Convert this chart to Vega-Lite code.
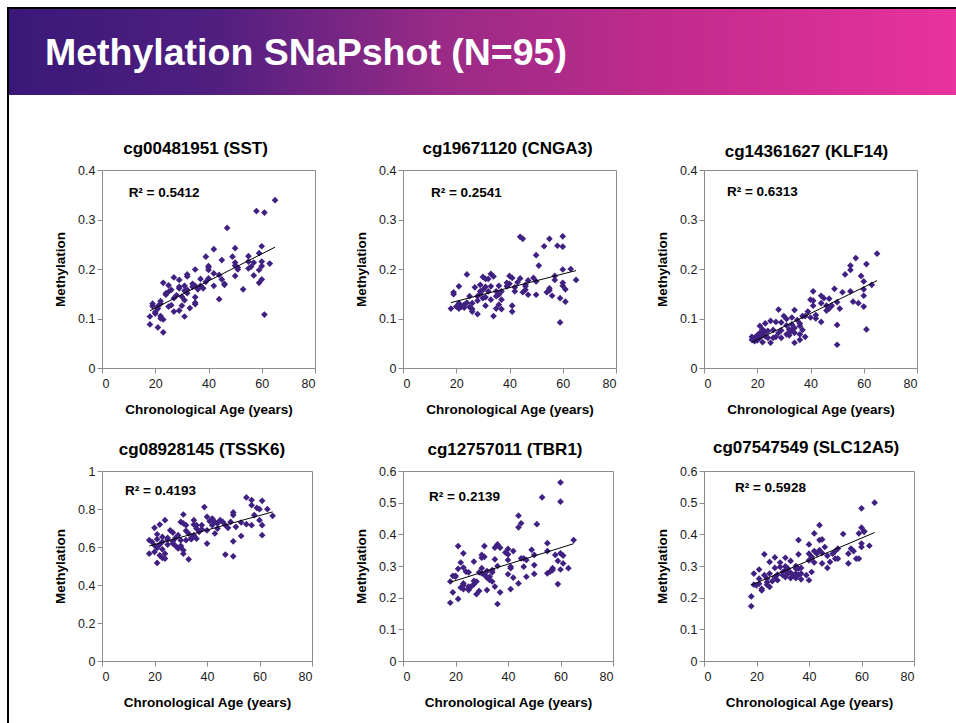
{
"$schema": "https://vega.github.io/schema/vega-lite/v6.json",
"padding": {"left": 7, "top": 7, "right": 0, "bottom": 0},
"background": "white",
"datasets": {
"p1": [{"age":65,"methylation":0.339},{"age":58,"methylation":0.317},{"age":61,"methylation":0.314},{"age":47,"methylation":0.283},{"age":60,"methylation":0.246},{"age":42,"methylation":0.240},{"age":50,"methylation":0.242},{"age":39,"methylation":0.225},{"age":49,"methylation":0.225},{"age":55,"methylation":0.226},{"age":59,"methylation":0.232},{"age":63,"methylation":0.211},{"age":45,"methylation":0.218},{"age":35,"methylation":0.199},{"age":40,"methylation":0.206},{"age":40,"methylation":0.198},{"age":50,"methylation":0.207},{"age":51,"methylation":0.199},{"age":55,"methylation":0.201},{"age":57,"methylation":0.213},{"age":60,"methylation":0.215},{"age":60,"methylation":0.206},{"age":32,"methylation":0.189},{"age":27,"methylation":0.183},{"age":23,"methylation":0.172},{"age":25,"methylation":0.167},{"age":32,"methylation":0.185},{"age":37,"methylation":0.180},{"age":40,"methylation":0.181},{"age":44,"methylation":0.188},{"age":45,"methylation":0.179},{"age":50,"methylation":0.186},{"age":57,"methylation":0.187},{"age":60,"methylation":0.179},{"age":59,"methylation":0.172},{"age":42,"methylation":0.166},{"age":46,"methylation":0.170},{"age":53,"methylation":0.159},{"age":26,"methylation":0.158},{"age":29,"methylation":0.164},{"age":31,"methylation":0.166},{"age":34,"methylation":0.164},{"age":35,"methylation":0.166},{"age":36,"methylation":0.159},{"age":24,"methylation":0.151},{"age":25,"methylation":0.154},{"age":28,"methylation":0.147},{"age":30,"methylation":0.144},{"age":35,"methylation":0.143},{"age":32,"methylation":0.158},{"age":31,"methylation":0.137},{"age":35,"methylation":0.132},{"age":44,"methylation":0.139},{"age":22,"methylation":0.135},{"age":26,"methylation":0.127},{"age":21,"methylation":0.125},{"age":19,"methylation":0.125},{"age":30,"methylation":0.126},{"age":33,"methylation":0.121},{"age":27,"methylation":0.114},{"age":29,"methylation":0.116},{"age":18,"methylation":0.104},{"age":20,"methylation":0.110},{"age":22,"methylation":0.105},{"age":23,"methylation":0.098},{"age":31,"methylation":0.104},{"age":18,"methylation":0.088},{"age":21,"methylation":0.082},{"age":23,"methylation":0.072},{"age":61,"methylation":0.108},{"age":20,"methylation":0.113},{"age":22,"methylation":0.130},{"age":24,"methylation":0.148},{"age":29,"methylation":0.161},{"age":38,"methylation":0.161},{"age":39,"methylation":0.174},{"age":42,"methylation":0.191},{"age":37,"methylation":0.166},{"age":55,"methylation":0.215},{"age":56,"methylation":0.205},{"age":32,"methylation":0.151},{"age":27,"methylation":0.141},{"age":25,"methylation":0.124},{"age":40,"methylation":0.203},{"age":31,"methylation":0.156},{"age":21,"methylation":0.120},{"age":34,"methylation":0.170},{"age":51,"methylation":0.203},{"age":59,"methylation":0.198},{"age":46,"methylation":0.168},{"age":22,"methylation":0.100},{"age":19,"methylation":0.130},{"age":35,"methylation":0.129},{"age":29,"methylation":0.178},{"age":50,"methylation":0.213}],
"p2": [{"age":44,"methylation":0.265},{"age":45,"methylation":0.261},{"age":55,"methylation":0.261},{"age":60,"methylation":0.266},{"age":53,"methylation":0.246},{"age":58,"methylation":0.247},{"age":60,"methylation":0.245},{"age":50,"methylation":0.228},{"age":51,"methylation":0.207},{"age":60,"methylation":0.199},{"age":63,"methylation":0.200},{"age":65,"methylation":0.178},{"age":24,"methylation":0.189},{"age":30,"methylation":0.184},{"age":33,"methylation":0.190},{"age":34,"methylation":0.185},{"age":32,"methylation":0.180},{"age":31,"methylation":0.180},{"age":40,"methylation":0.186},{"age":41,"methylation":0.182},{"age":44,"methylation":0.181},{"age":47,"methylation":0.177},{"age":49,"methylation":0.182},{"age":50,"methylation":0.175},{"age":57,"methylation":0.186},{"age":57,"methylation":0.178},{"age":21,"methylation":0.165},{"age":27,"methylation":0.163},{"age":29,"methylation":0.168},{"age":31,"methylation":0.164},{"age":33,"methylation":0.165},{"age":36,"methylation":0.166},{"age":39,"methylation":0.165},{"age":40,"methylation":0.170},{"age":42,"methylation":0.163},{"age":46,"methylation":0.165},{"age":46,"methylation":0.158},{"age":55,"methylation":0.161},{"age":55,"methylation":0.157},{"age":60,"methylation":0.172},{"age":60,"methylation":0.166},{"age":61,"methylation":0.159},{"age":19,"methylation":0.153},{"age":19,"methylation":0.149},{"age":29,"methylation":0.155},{"age":29,"methylation":0.150},{"age":35,"methylation":0.155},{"age":42,"methylation":0.155},{"age":45,"methylation":0.153},{"age":47,"methylation":0.148},{"age":50,"methylation":0.148},{"age":56,"methylation":0.146},{"age":25,"methylation":0.145},{"age":28,"methylation":0.145},{"age":30,"methylation":0.141},{"age":31,"methylation":0.143},{"age":35,"methylation":0.145},{"age":37,"methylation":0.138},{"age":59,"methylation":0.141},{"age":21,"methylation":0.131},{"age":23,"methylation":0.128},{"age":24,"methylation":0.132},{"age":26,"methylation":0.131},{"age":31,"methylation":0.126},{"age":36,"methylation":0.128},{"age":41,"methylation":0.126},{"age":61,"methylation":0.134},{"age":18,"methylation":0.120},{"age":21,"methylation":0.120},{"age":23,"methylation":0.122},{"age":25,"methylation":0.123},{"age":26,"methylation":0.119},{"age":35,"methylation":0.120},{"age":37,"methylation":0.119},{"age":41,"methylation":0.114},{"age":26,"methylation":0.114},{"age":28,"methylation":0.109},{"age":34,"methylation":0.105},{"age":59,"methylation":0.092},{"age":22,"methylation":0.124},{"age":28,"methylation":0.136},{"age":33,"methylation":0.138},{"age":36,"methylation":0.148},{"age":39,"methylation":0.172},{"age":43,"methylation":0.173},{"age":22,"methylation":0.125},{"age":20,"methylation":0.124},{"age":32,"methylation":0.155},{"age":37,"methylation":0.155},{"age":54,"methylation":0.153},{"age":30,"methylation":0.158},{"age":46,"methylation":0.168}],
"p3": [{"age":65,"methylation":0.231},{"age":57,"methylation":0.222},{"age":55,"methylation":0.207},{"age":55,"methylation":0.198},{"age":61,"methylation":0.210},{"age":53,"methylation":0.189},{"age":59,"methylation":0.186},{"age":60,"methylation":0.175},{"age":63,"methylation":0.168},{"age":49,"methylation":0.160},{"age":41,"methylation":0.155},{"age":55,"methylation":0.155},{"age":60,"methylation":0.159},{"age":60,"methylation":0.146},{"age":40,"methylation":0.138},{"age":44,"methylation":0.146},{"age":45,"methylation":0.141},{"age":47,"methylation":0.140},{"age":50,"methylation":0.133},{"age":56,"methylation":0.134},{"age":58,"methylation":0.131},{"age":28,"methylation":0.118},{"age":34,"methylation":0.117},{"age":37,"methylation":0.105},{"age":39,"methylation":0.114},{"age":41,"methylation":0.126},{"age":42,"methylation":0.107},{"age":44,"methylation":0.131},{"age":46,"methylation":0.126},{"age":47,"methylation":0.120},{"age":51,"methylation":0.120},{"age":60,"methylation":0.124},{"age":30,"methylation":0.105},{"age":33,"methylation":0.102},{"age":40,"methylation":0.102},{"age":44,"methylation":0.093},{"age":25,"methylation":0.095},{"age":27,"methylation":0.093},{"age":23,"methylation":0.090},{"age":21,"methylation":0.085},{"age":29,"methylation":0.092},{"age":31,"methylation":0.086},{"age":33,"methylation":0.088},{"age":36,"methylation":0.090},{"age":36,"methylation":0.085},{"age":50,"methylation":0.087},{"age":22,"methylation":0.078},{"age":24,"methylation":0.075},{"age":32,"methylation":0.078},{"age":34,"methylation":0.081},{"age":37,"methylation":0.077},{"age":61,"methylation":0.078},{"age":18,"methylation":0.063},{"age":20,"methylation":0.066},{"age":21,"methylation":0.061},{"age":23,"methylation":0.064},{"age":26,"methylation":0.061},{"age":27,"methylation":0.063},{"age":29,"methylation":0.061},{"age":32,"methylation":0.071},{"age":32,"methylation":0.066},{"age":34,"methylation":0.071},{"age":36,"methylation":0.068},{"age":38,"methylation":0.063},{"age":19,"methylation":0.054},{"age":22,"methylation":0.052},{"age":25,"methylation":0.051},{"age":31,"methylation":0.068},{"age":34,"methylation":0.051},{"age":50,"methylation":0.047},{"age":18,"methylation":0.057},{"age":20,"methylation":0.056},{"age":23,"methylation":0.073},{"age":29,"methylation":0.076},{"age":33,"methylation":0.077},{"age":38,"methylation":0.105},{"age":41,"methylation":0.136},{"age":48,"methylation":0.126},{"age":52,"methylation":0.153},{"age":31,"methylation":0.099},{"age":28,"methylation":0.071},{"age":26,"methylation":0.077},{"age":21,"methylation":0.071},{"age":35,"methylation":0.097},{"age":42,"methylation":0.100},{"age":46,"methylation":0.116},{"age":22,"methylation":0.068},{"age":19,"methylation":0.061},{"age":36,"methylation":0.057},{"age":24,"methylation":0.061}],
"p4": [{"age":55,"methylation":0.861},{"age":57,"methylation":0.847},{"age":61,"methylation":0.843},{"age":57,"methylation":0.820},{"age":59,"methylation":0.806},{"age":60,"methylation":0.799},{"age":63,"methylation":0.799},{"age":65,"methylation":0.764},{"age":39,"methylation":0.810},{"age":50,"methylation":0.782},{"age":50,"methylation":0.768},{"age":31,"methylation":0.771},{"age":35,"methylation":0.741},{"age":40,"methylation":0.759},{"age":42,"methylation":0.750},{"age":41,"methylation":0.736},{"age":46,"methylation":0.732},{"age":44,"methylation":0.724},{"age":49,"methylation":0.732},{"age":60,"methylation":0.741},{"age":61,"methylation":0.715},{"age":55,"methylation":0.720},{"age":57,"methylation":0.715},{"age":24,"methylation":0.741},{"age":22,"methylation":0.718},{"age":20,"methylation":0.701},{"age":30,"methylation":0.732},{"age":32,"methylation":0.715},{"age":36,"methylation":0.715},{"age":36,"methylation":0.697},{"age":44,"methylation":0.697},{"age":48,"methylation":0.701},{"age":51,"methylation":0.706},{"age":37,"methylation":0.680},{"age":40,"methylation":0.688},{"age":43,"methylation":0.671},{"age":27,"methylation":0.676},{"age":29,"methylation":0.662},{"age":33,"methylation":0.671},{"age":35,"methylation":0.662},{"age":53,"methylation":0.658},{"age":61,"methylation":0.662},{"age":23,"methylation":0.653},{"age":25,"methylation":0.648},{"age":18,"methylation":0.636},{"age":21,"methylation":0.641},{"age":25,"methylation":0.639},{"age":27,"methylation":0.630},{"age":30,"methylation":0.636},{"age":32,"methylation":0.636},{"age":34,"methylation":0.641},{"age":50,"methylation":0.630},{"age":20,"methylation":0.609},{"age":22,"methylation":0.613},{"age":25,"methylation":0.613},{"age":28,"methylation":0.606},{"age":30,"methylation":0.600},{"age":40,"methylation":0.618},{"age":21,"methylation":0.595},{"age":23,"methylation":0.588},{"age":29,"methylation":0.592},{"age":31,"methylation":0.583},{"age":18,"methylation":0.565},{"age":20,"methylation":0.574},{"age":22,"methylation":0.556},{"age":23,"methylation":0.542},{"age":24,"methylation":0.565},{"age":31,"methylation":0.565},{"age":33,"methylation":0.535},{"age":47,"methylation":0.560},{"age":50,"methylation":0.551},{"age":21,"methylation":0.516},{"age":24,"methylation":0.539},{"age":21,"methylation":0.667},{"age":26,"methylation":0.688},{"age":28,"methylation":0.648},{"age":32,"methylation":0.685},{"age":38,"methylation":0.715},{"age":42,"methylation":0.715},{"age":43,"methylation":0.732},{"age":45,"methylation":0.741},{"age":23,"methylation":0.627},{"age":27,"methylation":0.618},{"age":34,"methylation":0.648},{"age":36,"methylation":0.644},{"age":38,"methylation":0.694},{"age":53,"methylation":0.729},{"age":58,"methylation":0.768},{"age":31,"methylation":0.724},{"age":19,"methylation":0.627},{"age":30,"methylation":0.606},{"age":35,"methylation":0.718},{"age":47,"methylation":0.715}],
"p5": [{"age":60,"methylation":0.564},{"age":60,"methylation":0.503},{"age":53,"methylation":0.517},{"age":44,"methylation":0.459},{"age":45,"methylation":0.435},{"age":44,"methylation":0.422},{"age":51,"methylation":0.432},{"age":65,"methylation":0.382},{"age":55,"methylation":0.372},{"age":21,"methylation":0.363},{"age":31,"methylation":0.363},{"age":36,"methylation":0.368},{"age":35,"methylation":0.358},{"age":37,"methylation":0.358},{"age":40,"methylation":0.354},{"age":42,"methylation":0.347},{"age":49,"methylation":0.351},{"age":55,"methylation":0.347},{"age":23,"methylation":0.340},{"age":30,"methylation":0.335},{"age":31,"methylation":0.329},{"age":40,"methylation":0.337},{"age":50,"methylation":0.335},{"age":58,"methylation":0.335},{"age":60,"methylation":0.340},{"age":61,"methylation":0.333},{"age":45,"methylation":0.324},{"age":46,"methylation":0.324},{"age":47,"methylation":0.319},{"age":35,"methylation":0.321},{"age":22,"methylation":0.311},{"age":27,"methylation":0.314},{"age":30,"methylation":0.326},{"age":59,"methylation":0.316},{"age":61,"methylation":0.308},{"age":21,"methylation":0.291},{"age":23,"methylation":0.295},{"age":24,"methylation":0.282},{"age":30,"methylation":0.293},{"age":36,"methylation":0.300},{"age":41,"methylation":0.293},{"age":41,"methylation":0.298},{"age":46,"methylation":0.298},{"age":50,"methylation":0.303},{"age":57,"methylation":0.293},{"age":60,"methylation":0.289},{"age":63,"methylation":0.293},{"age":19,"methylation":0.269},{"age":20,"methylation":0.269},{"age":25,"methylation":0.280},{"age":29,"methylation":0.280},{"age":32,"methylation":0.284},{"age":34,"methylation":0.280},{"age":34,"methylation":0.287},{"age":31,"methylation":0.272},{"age":40,"methylation":0.274},{"age":47,"methylation":0.266},{"age":50,"methylation":0.275},{"age":55,"methylation":0.277},{"age":56,"methylation":0.282},{"age":57,"methylation":0.287},{"age":18,"methylation":0.251},{"age":23,"methylation":0.245},{"age":27,"methylation":0.253},{"age":33,"methylation":0.256},{"age":33,"methylation":0.266},{"age":42,"methylation":0.263},{"age":44,"methylation":0.245},{"age":59,"methylation":0.243},{"age":22,"methylation":0.232},{"age":23,"methylation":0.227},{"age":25,"methylation":0.224},{"age":26,"methylation":0.235},{"age":27,"methylation":0.242},{"age":35,"methylation":0.235},{"age":41,"methylation":0.227},{"age":19,"methylation":0.217},{"age":29,"methylation":0.221},{"age":32,"methylation":0.224},{"age":37,"methylation":0.217},{"age":28,"methylation":0.211},{"age":21,"methylation":0.196},{"age":18,"methylation":0.184},{"age":36,"methylation":0.180},{"age":25,"methylation":0.229},{"age":28,"methylation":0.251},{"age":30,"methylation":0.277},{"age":39,"methylation":0.343},{"age":23,"methylation":0.240},{"age":25,"methylation":0.235},{"age":34,"methylation":0.251},{"age":20,"methylation":0.266},{"age":32,"methylation":0.263},{"age":40,"methylation":0.319}],
"p6": [{"age":65,"methylation":0.500},{"age":60,"methylation":0.482},{"age":44,"methylation":0.429},{"age":42,"methylation":0.403},{"age":53,"methylation":0.401},{"age":60,"methylation":0.421},{"age":61,"methylation":0.410},{"age":61,"methylation":0.408},{"age":59,"methylation":0.403},{"age":36,"methylation":0.382},{"age":44,"methylation":0.382},{"age":45,"methylation":0.384},{"age":40,"methylation":0.368},{"age":42,"methylation":0.347},{"age":45,"methylation":0.341},{"age":46,"methylation":0.360},{"age":50,"methylation":0.347},{"age":51,"methylation":0.355},{"age":56,"methylation":0.355},{"age":57,"methylation":0.347},{"age":60,"methylation":0.371},{"age":60,"methylation":0.360},{"age":63,"methylation":0.364},{"age":23,"methylation":0.337},{"age":27,"methylation":0.327},{"age":31,"methylation":0.326},{"age":36,"methylation":0.337},{"age":40,"methylation":0.339},{"age":41,"methylation":0.329},{"age":47,"methylation":0.332},{"age":49,"methylation":0.339},{"age":55,"methylation":0.339},{"age":25,"methylation":0.313},{"age":29,"methylation":0.311},{"age":33,"methylation":0.316},{"age":40,"methylation":0.318},{"age":42,"methylation":0.311},{"age":50,"methylation":0.323},{"age":55,"methylation":0.308},{"age":58,"methylation":0.323},{"age":59,"methylation":0.323},{"age":27,"methylation":0.294},{"age":31,"methylation":0.299},{"age":35,"methylation":0.300},{"age":37,"methylation":0.294},{"age":45,"methylation":0.308},{"age":47,"methylation":0.294},{"age":19,"methylation":0.276},{"age":21,"methylation":0.289},{"age":23,"methylation":0.271},{"age":30,"methylation":0.281},{"age":32,"methylation":0.276},{"age":33,"methylation":0.279},{"age":35,"methylation":0.276},{"age":36,"methylation":0.292},{"age":39,"methylation":0.271},{"age":41,"methylation":0.281},{"age":24,"methylation":0.260},{"age":27,"methylation":0.265},{"age":31,"methylation":0.265},{"age":33,"methylation":0.262},{"age":35,"methylation":0.262},{"age":26,"methylation":0.252},{"age":28,"methylation":0.255},{"age":37,"methylation":0.258},{"age":40,"methylation":0.255},{"age":19,"methylation":0.241},{"age":20,"methylation":0.239},{"age":24,"methylation":0.241},{"age":25,"methylation":0.234},{"age":22,"methylation":0.228},{"age":22,"methylation":0.223},{"age":24,"methylation":0.249},{"age":18,"methylation":0.204},{"age":18,"methylation":0.173},{"age":30,"methylation":0.271},{"age":32,"methylation":0.292},{"age":34,"methylation":0.271},{"age":36,"methylation":0.271},{"age":29,"methylation":0.297},{"age":25,"methylation":0.276},{"age":21,"methylation":0.244},{"age":41,"methylation":0.323},{"age":48,"methylation":0.313},{"age":44,"methylation":0.350},{"age":51,"methylation":0.323},{"age":37,"methylation":0.276},{"age":31,"methylation":0.287},{"age":28,"methylation":0.273},{"age":21,"methylation":0.260},{"age":35,"methylation":0.292},{"age":43,"methylation":0.339}]
},
"spacing": 0,
"vconcat": [
 {"width": 949, "height": 2, "data": {"values": []}, "mark": "rect", "encoding": {}, "view": {"fill": "#000000", "stroke": null}},
 {"spacing": 0, "hconcat": [
  {"width": 2, "height": 714, "data": {"values": []}, "mark": "rect", "encoding": {}, "view": {"fill": "#000000", "stroke": null}},
  {"spacing": 44, "vconcat": [
   {"width": 947, "height": 86, "data": {"values": []}, "mark": "rect", "encoding": {},
    "view": {"stroke": null, "fill": {"gradient": "linear", "x1": 0, "y1": 0, "x2": 1, "y2": 0, "stops": [{"offset": 0, "color": "#3a1878"}, {"offset": 0.22, "color": "#501f80"}, {"offset": 0.45, "color": "#982a86"}, {"offset": 0.7, "color": "#c22b8d"}, {"offset": 1, "color": "#e8329e"}]}},
    "title": {"text": "Methylation SNaPshot (N=95)", "anchor": "start", "orient": "top", "frame": "group", "offset": -63, "dx": 36, "color": "white", "fontSize": 37.5, "fontWeight": "bold", "font": "Liberation Sans"}},
   {"spacing": 0, "hconcat": [
    {"width": 44, "height": 1, "data": {"values": []}, "mark": "rect", "encoding": {}, "view": {"stroke": null, "fill": null}},
    {"columns": 3, "spacing": {"column": 38, "row": 21}, "concat": [
     {"title": {"text": "cg00481951 (SST)", "dx": -13}, "width": 213, "height": 198, "data": {"name": "p1"}, "layer": [
      {"mark": {"type": "point", "shape": "diamond", "filled": true, "size": 45, "color": "#402080", "opacity": 1}, "encoding": {"x": {"field": "age", "type": "quantitative", "scale": {"domain": [0, 80], "nice": false}, "axis": {"values": [0, 20, 40, 60, 80], "title": "Chronological Age (years)"}}, "y": {"field": "methylation", "type": "quantitative", "scale": {"domain": [0, 0.4], "nice": false}, "axis": {"values": [0, 0.1, 0.2, 0.3, 0.4], "format": "~g", "title": "Methylation"}}}},
      {"transform": [{"regression": "methylation", "on": "age"}], "mark": {"type": "line", "color": "#000000", "strokeWidth": 1}, "encoding": {"x": {"field": "age", "type": "quantitative"}, "y": {"field": "methylation", "type": "quantitative"}}},
      {"data": {"values": [{"label": "R² = 0.5412"}]}, "mark": {"type": "text", "align": "left", "baseline": "middle", "fontWeight": "bold", "fontSize": 13.5, "color": "#000000"}, "encoding": {"x": {"datum": 10}, "y": {"datum": 0.354}, "text": {"field": "label"}}}
     ]},
     {"title": {"text": "cg19671120 (CNGA3)", "dx": -2}, "width": 213, "height": 198, "data": {"name": "p2"}, "layer": [
      {"mark": {"type": "point", "shape": "diamond", "filled": true, "size": 45, "color": "#402080", "opacity": 1}, "encoding": {"x": {"field": "age", "type": "quantitative", "scale": {"domain": [0, 80], "nice": false}, "axis": {"values": [0, 20, 40, 60, 80], "title": "Chronological Age (years)"}}, "y": {"field": "methylation", "type": "quantitative", "scale": {"domain": [0, 0.4], "nice": false}, "axis": {"values": [0, 0.1, 0.2, 0.3, 0.4], "format": "~g", "title": "Methylation"}}}},
      {"transform": [{"regression": "methylation", "on": "age"}], "mark": {"type": "line", "color": "#000000", "strokeWidth": 1}, "encoding": {"x": {"field": "age", "type": "quantitative"}, "y": {"field": "methylation", "type": "quantitative"}}},
      {"data": {"values": [{"label": "R² = 0.2541"}]}, "mark": {"type": "text", "align": "left", "baseline": "middle", "fontWeight": "bold", "fontSize": 13.5, "color": "#000000"}, "encoding": {"x": {"datum": 10.5}, "y": {"datum": 0.354}, "text": {"field": "label"}}}
     ]},
     {"title": {"text": "cg14361627 (KLF14)", "dx": -4, "dy": 3}, "width": 213, "height": 198, "data": {"name": "p3"}, "layer": [
      {"mark": {"type": "point", "shape": "diamond", "filled": true, "size": 45, "color": "#402080", "opacity": 1}, "encoding": {"x": {"field": "age", "type": "quantitative", "scale": {"domain": [0, 80], "nice": false}, "axis": {"values": [0, 20, 40, 60, 80], "title": "Chronological Age (years)"}}, "y": {"field": "methylation", "type": "quantitative", "scale": {"domain": [0, 0.4], "nice": false}, "axis": {"values": [0, 0.1, 0.2, 0.3, 0.4], "format": "~g", "title": "Methylation"}}}},
      {"transform": [{"regression": "methylation", "on": "age"}], "mark": {"type": "line", "color": "#000000", "strokeWidth": 1}, "encoding": {"x": {"field": "age", "type": "quantitative"}, "y": {"field": "methylation", "type": "quantitative"}}},
      {"data": {"values": [{"label": "R² = 0.6313"}]}, "mark": {"type": "text", "align": "left", "baseline": "middle", "fontWeight": "bold", "fontSize": 13.5, "color": "#000000"}, "encoding": {"x": {"datum": 8.6}, "y": {"datum": 0.355}, "text": {"field": "label"}}}
     ]},
     {"title": {"text": "cg08928145 (TSSK6)", "dx": -5}, "width": 210, "height": 190, "data": {"name": "p4"}, "layer": [
      {"mark": {"type": "point", "shape": "diamond", "filled": true, "size": 45, "color": "#402080", "opacity": 1}, "encoding": {"x": {"field": "age", "type": "quantitative", "scale": {"domain": [0, 80], "nice": false}, "axis": {"values": [0, 20, 40, 60, 80], "title": "Chronological Age (years)"}}, "y": {"field": "methylation", "type": "quantitative", "scale": {"domain": [0, 1], "nice": false}, "axis": {"values": [0, 0.2, 0.4, 0.6, 0.8, 1], "format": "~g", "title": "Methylation"}}}},
      {"transform": [{"regression": "methylation", "on": "age"}], "mark": {"type": "line", "color": "#000000", "strokeWidth": 1}, "encoding": {"x": {"field": "age", "type": "quantitative"}, "y": {"field": "methylation", "type": "quantitative"}}},
      {"data": {"values": [{"label": "R² = 0.4193"}]}, "mark": {"type": "text", "align": "left", "baseline": "middle", "fontWeight": "bold", "fontSize": 13.5, "color": "#000000"}, "encoding": {"x": {"datum": 8.8}, "y": {"datum": 0.895}, "text": {"field": "label"}}}
     ]},
     {"title": {"text": "cg12757011 (TBR1)", "dx": -3}, "width": 210, "height": 190, "data": {"name": "p5"}, "layer": [
      {"mark": {"type": "point", "shape": "diamond", "filled": true, "size": 45, "color": "#402080", "opacity": 1}, "encoding": {"x": {"field": "age", "type": "quantitative", "scale": {"domain": [0, 80], "nice": false}, "axis": {"values": [0, 20, 40, 60, 80], "title": "Chronological Age (years)"}}, "y": {"field": "methylation", "type": "quantitative", "scale": {"domain": [0, 0.6], "nice": false}, "axis": {"values": [0, 0.1, 0.2, 0.3, 0.4, 0.5, 0.6], "format": "~g", "title": "Methylation"}}}},
      {"transform": [{"regression": "methylation", "on": "age"}], "mark": {"type": "line", "color": "#000000", "strokeWidth": 1}, "encoding": {"x": {"field": "age", "type": "quantitative"}, "y": {"field": "methylation", "type": "quantitative"}}},
      {"data": {"values": [{"label": "R² = 0.2139"}]}, "mark": {"type": "text", "align": "left", "baseline": "middle", "fontWeight": "bold", "fontSize": 13.5, "color": "#000000"}, "encoding": {"x": {"datum": 9.9}, "y": {"datum": 0.518}, "text": {"field": "label"}}}
     ]},
     {"title": {"text": "cg07547549 (SLC12A5)", "dx": -3, "dy": -2}, "width": 210, "height": 190, "data": {"name": "p6"}, "layer": [
      {"mark": {"type": "point", "shape": "diamond", "filled": true, "size": 45, "color": "#402080", "opacity": 1}, "encoding": {"x": {"field": "age", "type": "quantitative", "scale": {"domain": [0, 80], "nice": false}, "axis": {"values": [0, 20, 40, 60, 80], "title": "Chronological Age (years)"}}, "y": {"field": "methylation", "type": "quantitative", "scale": {"domain": [0, 0.6], "nice": false}, "axis": {"values": [0, 0.1, 0.2, 0.3, 0.4, 0.5, 0.6], "format": "~g", "title": "Methylation"}}}},
      {"transform": [{"regression": "methylation", "on": "age"}], "mark": {"type": "line", "color": "#000000", "strokeWidth": 1}, "encoding": {"x": {"field": "age", "type": "quantitative"}, "y": {"field": "methylation", "type": "quantitative"}}},
      {"data": {"values": [{"label": "R² = 0.5928"}]}, "mark": {"type": "text", "align": "left", "baseline": "middle", "fontWeight": "bold", "fontSize": 13.5, "color": "#000000"}, "encoding": {"x": {"datum": 11.8}, "y": {"datum": 0.547}, "text": {"field": "label"}}}
     ]}
    ]}
   ]}
  ]}
 ]}
],
"config": {
 "font": "Liberation Sans",
 "view": {"stroke": "#8c8c8c", "strokeWidth": 1},
 "axis": {"grid": false, "domainColor": "#8c8c8c", "tickColor": "#8c8c8c", "tickSize": 5, "tickCount": 20, "labelFontSize": 12.5, "labelColor": "#1a1a1a", "labelFont": "Liberation Sans", "labelPadding": 2, "labelOverlap": false, "titleFont": "Liberation Sans", "titleFontSize": 13.5, "titleFontWeight": "bold", "titleColor": "#000000"},
 "axisX": {"titlePadding": 13, "labelPadding": 4},
 "axisY": {"titlePadding": 10},
 "title": {"font": "Liberation Sans", "fontSize": 17, "fontWeight": "bold", "color": "#000000", "frame": "group", "offset": 6}
}
}
